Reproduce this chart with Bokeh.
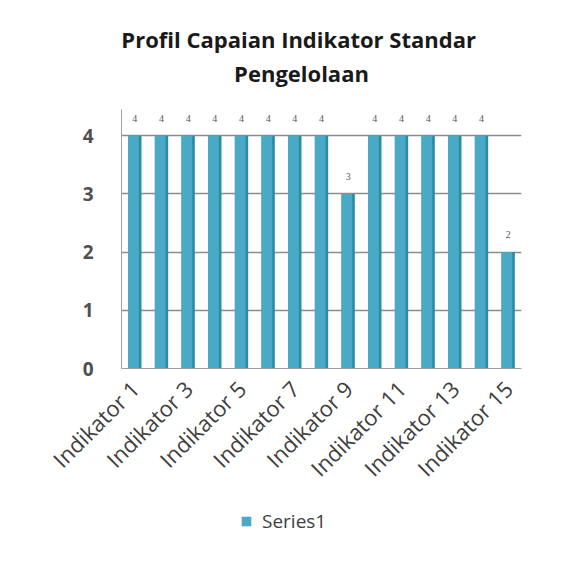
import math
from bokeh.plotting import figure
from bokeh.layouts import column
from bokeh.models import (Label, Legend, LegendItem, ColumnDataSource, FixedTicker,
                          LabelSet, CustomJSTickFormatter, Range1d)
from bokeh.transform import dodge
from bokeh.embed import file_html
from bokeh.resources import INLINE

categories = [f"Indikator {i}" for i in range(1, 16)]
values = [4, 4, 4, 4, 4, 4, 4, 4, 3, 4, 4, 4, 4, 4, 2]
y_ticks = [0, 1, 2, 3, 4]
shown_labels = ["Indikator 1", "Indikator 3", "Indikator 5", "Indikator 7",
                "Indikator 9", "Indikator 11", "Indikator 13", "Indikator 15"]
series_name = "Series1"
title_line1 = "Profil Capaian  Indikator Standar"
title_line2 = "Pengelolaan"

FONT = "Open Sans"
FACE = "#4aaac6"
SIDE = "#2c8ca7"
W = 562


def strip(height):
    f = figure(width=W, height=height, output_backend="svg", toolbar_location=None,
               x_range=Range1d(0, 1), y_range=Range1d(0, 1), min_border=0,
               x_axis_location=None, y_axis_location=None)
    f.grid.visible = False
    f.outline_line_color = None
    return f


# header with the two-line title (frame of this strip is aligned with the chart's frame)
p0 = strip(100)
for txt, ys in ((title_line1, 62), (title_line2, 28)):
    p0.add_layout(Label(x=180, y=ys, x_units="screen", y_units="screen", text=txt,
                        text_align="center", text_baseline="middle", text_font=FONT,
                        text_font_size="22px", text_font_style="bold",
                        text_color="#1a1a1a"))

# chart
src = ColumnDataSource(dict(cat=categories, val=values, lbl=[str(v) for v in values]))
p = figure(x_range=categories, y_range=(0, 4.45), width=W, height=400,
           output_backend="svg", toolbar_location=None,
           min_border_left=121, min_border_right=41, min_border_top=9,
           min_border_bottom=132)
p.vbar(x="cat", top="val", width=0.5, source=src, fill_color=SIDE, line_color=None)
p.vbar(x=dodge("cat", -0.05, range=p.x_range), top="val", width=0.4,
       source=src, fill_color=FACE, line_color=None)
p.add_layout(LabelSet(x="cat", y="val", text="lbl", source=src, text_align="center",
                      y_offset=14, text_font=FONT, text_font_size="10px",
                      text_color="#595959"))

p.xgrid.grid_line_color = None
p.ygrid.grid_line_color = "#8c8c8c"
p.ygrid.grid_line_width = 1.5
p.outline_line_color = None

p.yaxis.ticker = FixedTicker(ticks=y_ticks)
p.yaxis.major_tick_line_color = None
p.yaxis.minor_tick_line_color = None
p.yaxis.axis_line_color = "#a0a0a0"
p.yaxis.major_label_text_font = FONT
p.yaxis.major_label_text_font_size = "19px"
p.yaxis.major_label_text_font_style = "bold"
p.yaxis.major_label_text_color = "#505050"
p.yaxis.major_label_standoff = 22

p.xaxis.formatter = CustomJSTickFormatter(args=dict(shown=shown_labels),
                                          code="return shown.includes(tick) ? tick : ''")
p.xaxis.major_label_orientation = math.pi / 4
p.xaxis.major_tick_line_color = None
p.xaxis.axis_line_color = "#a0a0a0"
p.xaxis.major_label_text_font = FONT
p.xaxis.major_label_text_font_size = "22px"
p.xaxis.major_label_text_color = "#404040"
p.xaxis.major_label_standoff = 10

# legend strip below the chart
p2 = strip(74)
swatch = p2.vbar(x=[0.5], top=[0], width=0.1, fill_color=FACE, line_color=None)
p2.add_layout(Legend(items=[LegendItem(label=series_name, renderers=[swatch])],
                     location=(119, 40), orientation="horizontal",
                     label_text_font=FONT, label_text_font_size="19px",
                     label_text_color="#404040", glyph_width=12, glyph_height=12,
                     label_standoff=10, border_line_color=None,
                     background_fill_alpha=0), "center")

layout = column(p0, p, p2, spacing=0)
open("out.html", "w").write(file_html(layout, INLINE))
